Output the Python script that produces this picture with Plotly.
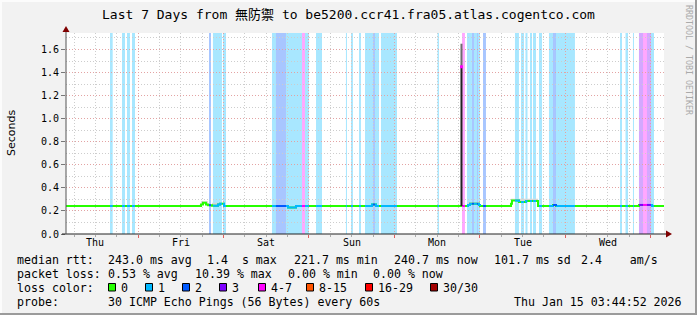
import plotly.graph_objects as go
from datetime import datetime

# ---------------- data ----------------
t_start = "2026-01-08 03:44:52"
t_end = "2026-01-15 03:44:52"

day_labels = ["Thu", "Fri", "Sat", "Sun", "Mon", "Tue", "Wed"]
day_noons = ["2026-01-08 12:00", "2026-01-09 12:00", "2026-01-10 12:00", "2026-01-11 12:00",
             "2026-01-12 12:00", "2026-01-13 12:00", "2026-01-14 12:00"]

# periods with packet loss (index into loss_colors)
loss_start = ["2026-01-08 16:06", "2026-01-08 19:29", "2026-01-08 20:53", "2026-01-08 22:17",
              "2026-01-09 19:55", "2026-01-09 21:02", "2026-01-09 23:51",
              "2026-01-10 13:37", "2026-01-10 14:44", "2026-01-10 17:33", "2026-01-10 22:03",
              "2026-01-10 22:53", "2026-01-11 01:59", "2026-01-11 10:24", "2026-01-11 11:49",
              "2026-01-11 14:04", "2026-01-11 15:45", "2026-01-11 17:58", "2026-01-11 18:33",
              "2026-01-11 20:14", "2026-01-12 12:07", "2026-01-12 19:00", "2026-01-12 20:24",
              "2026-01-12 21:48", "2026-01-12 22:22", "2026-01-12 23:12", "2026-01-12 23:29",
              "2026-01-13 00:54", "2026-01-13 09:53", "2026-01-13 11:34", "2026-01-13 12:50",
              "2026-01-13 14:06", "2026-01-13 14:57", "2026-01-13 16:38", "2026-01-13 19:26",
              "2026-01-13 20:34", "2026-01-13 21:24", "2026-01-14 15:23", "2026-01-14 16:56",
              "2026-01-14 19:02", "2026-01-14 20:43", "2026-01-14 21:51", "2026-01-14 22:58",
              "2026-01-15 00:06"]
loss_end = ["2026-01-08 16:52", "2026-01-08 20:19", "2026-01-08 21:43", "2026-01-08 23:08",
            "2026-01-09 20:29", "2026-01-09 23:34", "2026-01-10 00:42",
            "2026-01-10 14:44", "2026-01-10 17:33", "2026-01-10 22:03", "2026-01-10 22:53",
            "2026-01-11 00:01", "2026-01-11 03:40", "2026-01-11 10:41", "2026-01-11 12:22",
            "2026-01-11 14:37", "2026-01-11 17:58", "2026-01-11 18:33", "2026-01-11 19:41",
            "2026-01-12 00:44", "2026-01-12 12:32", "2026-01-12 19:50", "2026-01-12 21:48",
            "2026-01-12 22:22", "2026-01-12 23:12", "2026-01-12 23:29", "2026-01-13 00:03",
            "2026-01-13 01:44", "2026-01-13 11:00", "2026-01-13 12:25", "2026-01-13 13:24",
            "2026-01-13 14:40", "2026-01-13 15:47", "2026-01-13 17:28", "2026-01-13 20:34",
            "2026-01-13 21:24", "2026-01-14 02:44", "2026-01-14 15:57", "2026-01-14 17:38",
            "2026-01-14 19:19", "2026-01-14 21:51", "2026-01-14 22:58", "2026-01-15 00:06",
            "2026-01-15 00:56"]
loss_level = [1, 1, 1, 1,
              2, 1, 1,
              1, 2, 1, 4,
              1, 1, 1, 1,
              1, 1, 2, 1,
              1, 1, 4, 1,
              2, 1, 2, 1,
              2, 1, 1, 1,
              1, 1, 1, 1,
              2, 1, 1, 1,
              1, 3, 4, 3,
              1]

# median rtt (seconds), step breakpoints
median_time = ["2026-01-08 03:44:52",
               "2026-01-09 17:40", "2026-01-09 18:14", "2026-01-09 19:04", "2026-01-09 19:38",
               "2026-01-09 20:46", "2026-01-09 22:27", "2026-01-09 23:00", "2026-01-10 00:08",
               "2026-01-10 18:07", "2026-01-10 20:22",
               "2026-01-11 17:43", "2026-01-11 18:50",
               "2026-01-12 20:41", "2026-01-12 21:15", "2026-01-12 23:46", "2026-01-13 00:03",
               "2026-01-13 08:46", "2026-01-13 09:02", "2026-01-13 11:00", "2026-01-13 12:58",
               "2026-01-13 16:21",
               "2026-01-13 20:34", "2026-01-13 21:24",
               "2026-01-14 20:43", "2026-01-15 00:22",
               "2026-01-15 03:44:52"]
median_value = [0.243,
                0.255, 0.272, 0.256, 0.250,
                0.246, 0.255, 0.263, 0.243,
                0.229, 0.243,
                0.256, 0.243,
                0.252, 0.263, 0.252, 0.243,
                0.262, 0.290, 0.277, 0.286,
                0.243,
                0.252, 0.243,
                0.252, 0.243,
                0.243]

# visible smoke (rtt spread) above the median
smoke_start = ["2026-01-09 17:40", "2026-01-09 20:46", "2026-01-12 20:41", "2026-01-13 08:46"]
smoke_end = ["2026-01-09 19:38", "2026-01-10 00:08", "2026-01-13 00:03", "2026-01-13 16:21"]
smoke_top = [0.285, 0.27, 0.278, 0.305]

# single outlier sample (Mon evening)
spike_time = ["2026-01-12 18:51"]
spike_base = [0.243]
spike_median = [1.45]
spike_top = [1.65]
spike_level = [4]

loss_names = ["0", "1", "2", "3", "4-7", "8-15", "16-29", "30/30"]
loss_colors = ["#26ff00", "#00b8ff", "#0059ff", "#7e00ff", "#ff00ff", "#ff5500", "#ff0000", "#a10000"]

y_ticks = [0.0, 0.2, 0.4, 0.6, 0.8, 1.0, 1.2, 1.4, 1.6]

# ---------------- layout helpers ----------------
W, H = 697, 315
L, R, T, B = 66, 33, 33, 81
PW, PH = W - L - R, H - T - B


def X(px):
    return (px - L) / PW


def Y(py):
    return (H - B - py) / PH


MONO = "DejaVu Sans Mono, Noto Sans CJK SC, monospace"


def P(s):
    return datetime.fromisoformat(s)


med_t = [P(s) for s in median_time]


def med_at(t):
    v = median_value[0]
    for tt, vv in zip(med_t, median_value):
        if tt <= t:
            v = vv
        else:
            break
    return v


fig = go.Figure()

# smoke areas
for s, e, top in zip(smoke_start, smoke_end, smoke_top):
    ts, te = P(s), P(e)
    pts = [ts] + [t for t in med_t if ts < t < te] + [te]
    bx, by = [], []
    for i, t in enumerate(pts):
        v = med_at(t)
        if i > 0:
            bx.append(t)
            by.append(med_at(pts[i - 1]))
        bx.append(t)
        by.append(v)
    xs = [ts, te] + bx[::-1]
    ys = [top, top] + by[::-1]
    fig.add_trace(go.Scatter(x=xs, y=ys, mode="lines", fill="toself", fillcolor="#d6d6d6",
                             line=dict(width=0), hoverinfo="skip", showlegend=False))

# base median line (green, loss 0)
fig.add_trace(go.Scatter(x=median_time, y=median_value, mode="lines", line_shape="hv",
                         line=dict(color=loss_colors[0], width=2), hoverinfo="skip", showlegend=False))

# median coloured by loss during loss periods
for lvl in sorted(set(loss_level)):
    xs, ys = [], []
    for s, e, l in zip(loss_start, loss_end, loss_level):
        if l != lvl:
            continue
        ts, te = P(s), P(e)
        pts = [ts] + [t for t in med_t if ts < t < te] + [te]
        xs += pts + [None]
        ys += [med_at(t) for t in pts] + [None]
    fig.add_trace(go.Scatter(x=xs, y=ys, mode="lines", line_shape="hv",
                             line=dict(color=loss_colors[lvl], width=2),
                             hoverinfo="skip", showlegend=False, connectgaps=False))

# outlier: smoke column + median mark
for t, b0, m, top, l in zip(spike_time, spike_base, spike_median, spike_top, spike_level):
    fig.add_trace(go.Scatter(x=[t, t], y=[b0, m], mode="lines", line=dict(color="#222222", width=2),
                             hoverinfo="skip", showlegend=False))
    fig.add_trace(go.Scatter(x=[t, t], y=[m, top], mode="lines", line=dict(color="#6e6e6e", width=2),
                             hoverinfo="skip", showlegend=False))
    fig.add_trace(go.Scatter(x=[t], y=[m], mode="markers",
                             marker=dict(symbol="square", size=3, color=loss_colors[l], line=dict(width=0)),
                             hoverinfo="skip", showlegend=False))

shapes = []
# loss background bands
for s, e, l in zip(loss_start, loss_end, loss_level):
    shapes.append(dict(type="rect", xref="x", yref="paper", x0=s, x1=e, y0=0, y1=1,
                       fillcolor=loss_colors[l], opacity=0.34, line=dict(width=0), layer="below"))

# frame
shapes += [
    dict(type="line", xref="paper", yref="paper", x0=X(0), x1=X(W), y0=Y(1), y1=Y(1),
         line=dict(color="#fcfcfc", width=2)),
    dict(type="line", xref="paper", yref="paper", x0=X(1), x1=X(1), y0=Y(0), y1=Y(H),
         line=dict(color="#fcfcfc", width=2)),
    dict(type="line", xref="paper", yref="paper", x0=X(0), x1=X(W), y0=Y(H - 1), y1=Y(H - 1),
         line=dict(color="#9b9b9b", width=2)),
    dict(type="line", xref="paper", yref="paper", x0=X(W - 1), x1=X(W - 1), y0=Y(0), y1=Y(H),
         line=dict(color="#9b9b9b", width=2)),
]
# axis lines + arrows
shapes += [
    dict(type="line", xref="paper", yref="paper", x0=X(62), x1=X(668), y0=0, y1=0,
         line=dict(color="#222222", width=1)),
    dict(type="line", xref="paper", yref="paper", x0=0, x1=0, y0=0, y1=Y(29),
         line=dict(color="#555555", width=1)),
    dict(type="path", xref="paper", yref="paper",
         path=f"M {X(666)} {Y(230.5)} L {X(672)} {Y(234)} L {X(666)} {Y(237.5)} Z",
         fillcolor="#7f0000", line=dict(width=0)),
    dict(type="path", xref="paper", yref="paper",
         path=f"M {X(62.5)} {Y(32)} L {X(66)} {Y(26)} L {X(69.5)} {Y(32)} Z",
         fillcolor="#7f0000", line=dict(width=0)),
]

ann = []
# day labels
for lab, t in zip(day_labels, day_noons):
    ann.append(dict(x=t, xref="x", y=Y(242.5), yref="paper", text=lab, showarrow=False,
                    xanchor="center", yanchor="middle", font=dict(family=MONO, size=10, color="#000")))

ann.append(dict(x=X(11), y=Y(133), xref="paper", yref="paper", text="Seconds", textangle=-90,
                showarrow=False, xanchor="center", yanchor="middle",
                font=dict(family="DejaVu Sans", size=11, color="#000")))
ann.append(dict(x=X(348), y=Y(15), xref="paper", yref="paper",
                text="Last 7 Days from 無防禦 to be5200.ccr41.fra05.atlas.cogentco.com",
                showarrow=False, xanchor="center", yanchor="middle",
                font=dict(family=MONO, size=13, color="#000")))
ann.append(dict(x=X(689), y=Y(60), xref="paper", yref="paper", text="RRDTOOL / TOBI OETIKER",
                textangle=90, showarrow=False, xanchor="center", yanchor="middle",
                font=dict(family=MONO, size=8.3, color="#aaaaaa")))


def txt(px, py, s):
    ann.append(dict(x=X(px), y=Y(py), xref="paper", yref="paper", text=s, showarrow=False,
                    xanchor="left", yanchor="middle", font=dict(family=MONO, size=11.6, color="#000")))


txt(15, 259.5, "median rtt:")
txt(106, 259.5, "243.0 ms avg")
txt(205, 259.5, "1.4  s max")
txt(292, 259.5, "221.7 ms min")
txt(392, 259.5, "240.7 ms now")
txt(492, 259.5, "101.7 ms sd")
txt(579, 259.5, "2.4    am/s")

txt(15, 273.5, "packet loss:")
txt(106, 273.5, "0.53 % avg")
txt(193, 273.5, "10.39 % max")
txt(286, 273.5, "0.00 % min")
txt(371, 273.5, "0.00 % now")

txt(15, 287.5, "loss color:")
box_x = [108.5, 145.5, 182.5, 219.5, 258.5, 306.5, 365.5, 430.5]
for bx, name, col in zip(box_x, loss_names, loss_colors):
    shapes.append(dict(type="rect", xref="paper", yref="paper", x0=X(bx), x1=X(bx + 7),
                       y0=Y(291), y1=Y(283.5), fillcolor=col, line=dict(color="#000", width=1)))
    txt(bx + 10, 287.5, name)

txt(15, 301.5, "probe:")
txt(106, 301.5, "30 ICMP Echo Pings (56 Bytes) every 60s")
txt(512, 301.5, "Thu Jan 15 03:44:52 2026")

grid_red = "#e3a3a3"
grid_gray = "#cdcdcd"

fig.update_layout(
    width=W, height=H, autosize=False,
    margin=dict(l=L, r=R, t=T, b=B, pad=0),
    paper_bgcolor="#f2f2f2", plot_bgcolor="#ffffff",
    showlegend=False,
    shapes=shapes, annotations=ann,
    xaxis=dict(type="date", range=[t_start, t_end], tickmode="linear", tick0="2026-01-09 00:00",
               dtick=86400000, showticklabels=False, showgrid=True, gridcolor=grid_red,
               griddash="1px,2px", gridwidth=1, ticks="outside", ticklen=3, tickcolor="#e06060",
               zeroline=False, showline=False, fixedrange=True,
               minor=dict(tick0="2026-01-08 00:00", dtick=21600000, showgrid=True, gridcolor=grid_gray,
                          griddash="1px,2px", gridwidth=1, ticks="outside", ticklen=2, tickcolor="#aaaaaa")),
    yaxis=dict(range=[0, 1.743], tickmode="array", tickvals=y_ticks,
               ticktext=[f"{v:.1f}" for v in y_ticks],
               showgrid=True, gridcolor=grid_red, griddash="1px,2px", gridwidth=1,
               ticks="outside", ticklen=4, tickcolor="#777777", zeroline=False, showline=False,
               tickfont=dict(family=MONO, size=10, color="#000"), fixedrange=True,
               minor=dict(dtick=0.1, tick0=0, showgrid=True, gridcolor=grid_gray, griddash="1px,2px",
                          gridwidth=1)),
)

fig.write_html("out.html")
